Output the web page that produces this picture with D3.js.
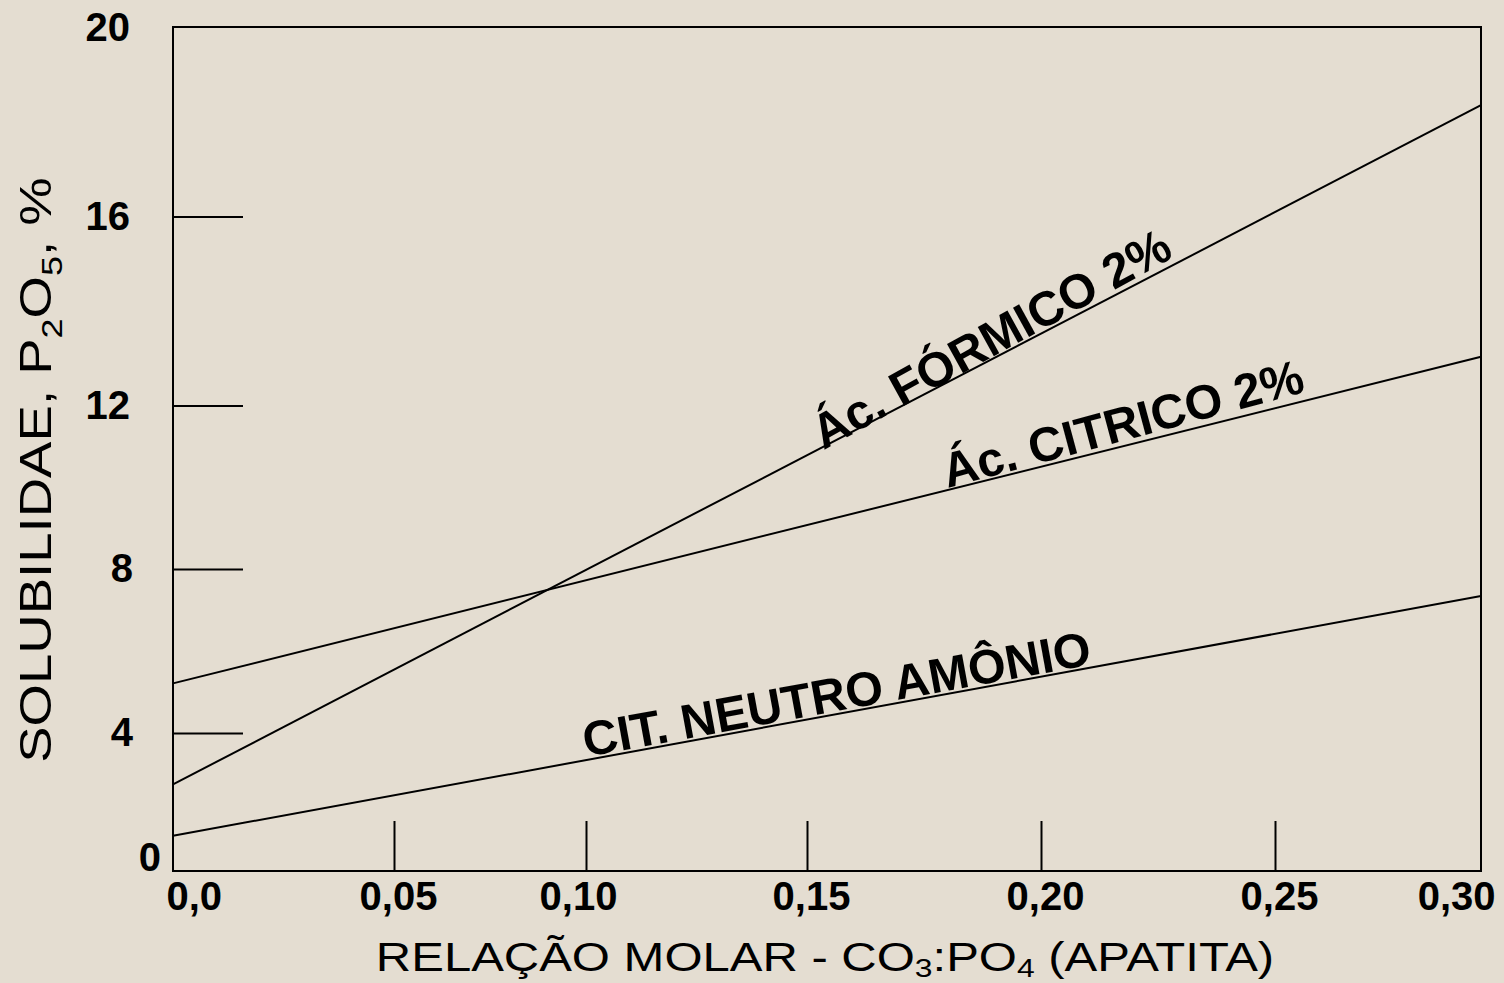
<!DOCTYPE html>
<html>
<head>
<meta charset="utf-8">
<script src="https://cdn.jsdelivr.net/npm/d3@7/dist/d3.min.js"></script>
<style>
  html, body { margin: 0; padding: 0; background: #e4ddd1; }
  svg { display: block; }
  text { font-family: "Liberation Sans", Arial, sans-serif; fill: #000; }
</style>
</head>
<body>
<svg id="chart" width="1504" height="983"></svg>
<script>
// ---- data ----
const xTicks = [0, 0.05, 0.10, 0.15, 0.20, 0.25, 0.30];
const xTickLabels = ["0,0", "0,05", "0,10", "0,15", "0,20", "0,25", "0,30"];
const yTicks = [0, 4, 8, 12, 16, 20];
const yTickLabels = ["0", "4", "8", "12", "16", "20"];
const seriesNames = ["Ác. FÓRMICO 2%", "Ác. CITRICO 2%", "CIT. NEUTRO AMÔNIO"];
const xValues = [0, 0.30];
const formico = [2.51, 18.35];
const citrico = [5.21, 13.03];
const neutro = [1.02, 7.34];

// ---- layout (the original axis is hand-drawn with uneven tick spacing) ----
const xTickPx = [173, 394, 586, 807, 1041, 1275, 1481];
const yTickPx = [871, 733, 569, 405.5, 216.5, 27];
const labelCfg = [
  { at: 0.1535, off: 3.5, tilt: -1.4 },
  { at: 0.1800, off: -2, tilt: -1.0 },
  { at: 0.1000, off: -3, tilt: 0 }
];

const svg = d3.select("#chart");
svg.append("rect").attr("width", 1504).attr("height", 983).attr("fill", "#e4ddd1");

const xs = d3.scaleLinear().domain(xTicks).range(xTickPx);
const ys = d3.scaleLinear().domain(yTicks).range(yTickPx);

// plot frame
svg.append("rect")
  .attr("x", xs(0)).attr("y", ys(20))
  .attr("width", xs(0.30) - xs(0)).attr("height", ys(0) - ys(20))
  .attr("fill", "none").attr("stroke", "#000").attr("stroke-width", 2);

// y axis
const yAxis = svg.append("g")
  .attr("transform", `translate(${xs(0)},0)`)
  .call(d3.axisLeft(ys).tickValues(yTicks)
    .tickSizeInner(-70).tickSizeOuter(0).tickPadding(43)
    .tickFormat((d, i) => yTickLabels[i]));
yAxis.select(".domain").remove();
yAxis.selectAll(".tick line").attr("stroke", "#000").attr("stroke-width", 2)
  .attr("display", d => (d === 0 || d === 20) ? "none" : null);
yAxis.selectAll(".tick text")
  .attr("font-size", 40).attr("font-weight", "bold")
  .attr("font-family", "Liberation Sans, Arial, sans-serif").attr("fill", "#000");
yAxis.selectAll(".tick text").filter(d => d === 4 || d === 8).attr("x", -40);
yAxis.selectAll(".tick text").filter(d => d === 0)
  .attr("x", -12).attr("y", -13);
yAxis.selectAll(".tick text").filter(d => d === 20)
  .attr("y", 1);

// x axis
const xAxis = svg.append("g")
  .attr("transform", `translate(0,${ys(0)})`)
  .call(d3.axisBottom(xs).tickValues(xTicks)
    .tickSizeInner(-50).tickSizeOuter(0).tickPadding(10.5)
    .tickFormat((d, i) => xTickLabels[i]));
xAxis.select(".domain").remove();
xAxis.selectAll(".tick line").attr("stroke", "#000").attr("stroke-width", 2)
  .attr("display", d => (d === 0 || d === 0.30) ? "none" : null);
xAxis.selectAll(".tick text")
  .attr("font-size", 40).attr("font-weight", "bold")
  .attr("font-family", "Liberation Sans, Arial, sans-serif").attr("fill", "#000")
  .attr("x", 4);
xAxis.selectAll(".tick text").filter(d => d === 0)
  .attr("text-anchor", "start").attr("x", -7);
xAxis.selectAll(".tick text").filter(d => d === 0.30)
  .attr("text-anchor", "end").attr("x", 14);
xAxis.selectAll(".tick text").filter(d => d === 0.10).attr("x", -8);

// series lines
const series = [formico, citrico, neutro].map((vals, i) => ({
  name: seriesNames[i],
  points: xValues.map((x, j) => ({ x, y: vals[j] }))
}));
const line = d3.line().x(d => xs(d.x)).y(d => ys(d.y));
svg.append("g").selectAll("path").data(series).join("path")
  .attr("d", d => line(d.points))
  .attr("fill", "none").attr("stroke", "#000").attr("stroke-width", 2);

// labels along lines
series.forEach((s, i) => {
  const p0 = { x: xs(s.points[0].x), y: ys(s.points[0].y) };
  const p1 = { x: xs(s.points[1].x), y: ys(s.points[1].y) };
  const ang = Math.atan2(p1.y - p0.y, p1.x - p0.x) * 180 / Math.PI;
  const cfg = labelCfg[i];
  const px = xs(cfg.at);
  const t = (px - p0.x) / (p1.x - p0.x);
  const py = p0.y + t * (p1.y - p0.y) + cfg.off;
  svg.append("text")
    .attr("transform", `translate(${px},${py}) rotate(${ang + cfg.tilt})`)
    .attr("font-size", 48.5).attr("font-weight", "bold")
    .text(s.name);
});

// y title
const yt = svg.append("text")
  .attr("transform", "translate(51,470) rotate(-90) scale(1.24,1)")
  .attr("text-anchor", "middle").attr("font-size", 44);
yt.append("tspan").text("SOLUBILIDAE, P");
yt.append("tspan").attr("font-size", 29).attr("dy", 11).text("2");
yt.append("tspan").attr("dy", -11).text("O");
yt.append("tspan").attr("font-size", 29).attr("dy", 11).text("5");
yt.append("tspan").attr("dy", -11).text(", %");

// x title
const xt = svg.append("text")
  .attr("transform", "translate(825,971) scale(1.225,1)")
  .attr("text-anchor", "middle").attr("font-size", 40);
xt.append("tspan").text("RELAÇÃO MOLAR - CO");
xt.append("tspan").attr("font-size", 26).attr("dy", 6).text("3");
xt.append("tspan").attr("dy", -6).text(":PO");
xt.append("tspan").attr("font-size", 26).attr("dy", 6).text("4");
xt.append("tspan").attr("dy", -6).text(" (APATITA)");
</script>
</body>
</html>
